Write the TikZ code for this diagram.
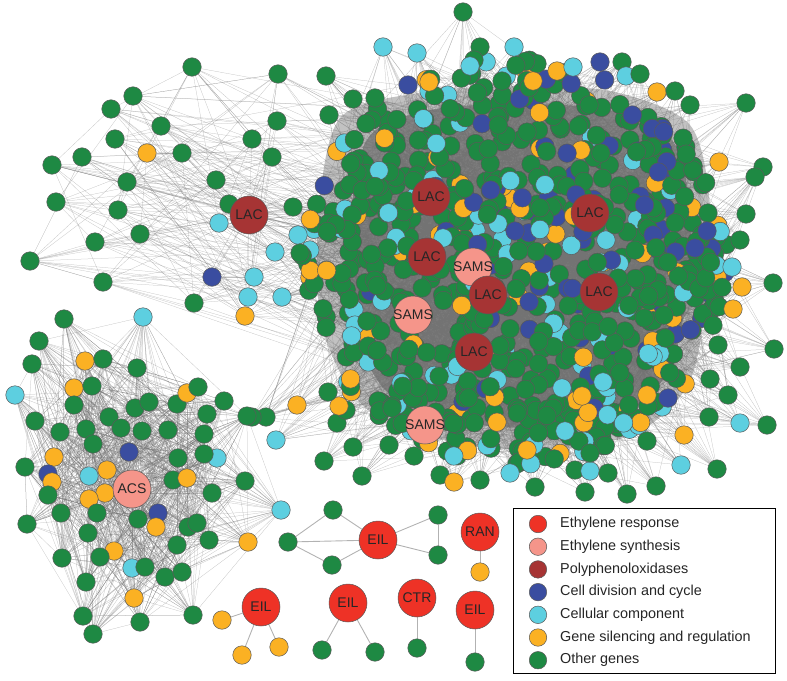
\documentclass[tikz,border=0pt]{standalone}
\usepackage{fontspec}
\setmainfont{Liberation Sans}
\usepackage{xcolor}
\usepackage{tikz}
\usetikzlibrary{positioning}

\definecolor{er}{RGB}{238,50,38}
\definecolor{es}{RGB}{245,149,138}
\definecolor{po}{RGB}{166,52,52}
\definecolor{cd}{RGB}{58,77,160}
\definecolor{cc}{RGB}{93,207,224}
\definecolor{gs}{RGB}{251,177,35}
\definecolor{og}{RGB}{30,137,67}

\pgfdeclarelayer{bg}
\pgfsetlayers{bg,main}

\tikzset{
  gene/.style={circle,draw=black!65,line width=0.5pt,minimum size=18.5pt,inner sep=0pt},
  hub/.style={circle,draw=black!65,line width=0.5pt,minimum size=38pt,inner sep=0pt},
  hubtext/.style={inner sep=0pt,text=black!85,font=\fontsize{14}{16}\selectfont},
  edge/.style={draw=black!55,line width=0.25pt,opacity=0.45},
  link/.style={draw=black!30,line width=0.9pt},
  legtext/.style={inner sep=0pt,anchor=west,text=black!85,font=\fontsize{14.4}{17}\selectfont}
}

\begin{document}
\begin{tikzpicture}[x=1pt,y=-1pt]
\useasboundingbox (0,0) rectangle (787,680);

% core genes of the big module
\pgfmathsetseed{4242}
\foreach \i in {1,...,820}{
  \pgfmathsetmacro\ra{1.04*sqrt(rnd)}
  \pgfmathsetmacro\an{360*rnd}
  \pgfmathsetmacro\px{515+205*\ra*cos(\an)}
  \pgfmathsetmacro\py{262+195*\ra*sin(\an)}
  \pgfmathsetmacro\u{rnd}
  \pgfmathtruncatemacro\k{(\px>470 && \py<360) ? (\u<0.17 ? 1 : (\u<0.27 ? 2 : (\u<0.35 ? 3 : 0))) : (\u<0.03 ? 1 : (\u<0.15 ? 2 : (\u<0.24 ? 3 : 0)))}
  \ifcase\k\relax \def\col{og}\or \def\col{cd}\or \def\col{cc}\or \def\col{gs}\fi
  \node[gene,fill=\col] (c\i) at (\px,\py) {};
}

% fringe of the big module
\foreach \x/\y/\c [count=\i] in {463/12/og,383/47/cc,417/53/cc,480/47/og,514/47/cc,326/76/og,353/99/og,375/98/og,
  408/85/cd,429/82/gs,329/115/og,474/60/og,470/66/cc,502/81/og,533/81/gs,557/71/gs,573/67/cc,600/62/cd,622/62/og,
  626/76/cc,640/74/og,657/92/gs,675/91/og,690/105/og,
  746/103/og,719/162/gs,763/167/og,755/177/og,746/214/og,740/240/og,708/213/og,707/231/cd,695/248/cd,732/267/cc,
  742/287/gs,773/283/og,733/309/gs,774/349/og,718/345/og,740/367/og,710/379/og,728/395/og,740/423/cc,767/425/og,
  709/417/og,684/435/gs,681/465/cc,717/469/og,668/398/cd,647/395/gs,647/441/og,656/486/og,627/494/og,
  297/405/gs,266/417/og,252/417/og,276/440/cc,324/461/og,353/447/og,362/476/og,389/445/og,414/456/og,337/423/og,
  346/410/og,339/406/gs,328/392/og,392/408/og,440/475/og,454/482/gs,480/480/og,510/473/cc,535/487/og,585/492/og,
  575/470/og,590/471/cc,608/473/og,527/450/gs,590/453/og,582/396/gs,565/431/cc,562/388/cc,603/382/cc,
  293/207/og,298/235/cc,300/253/og,282/297/cc}{
  \node[gene,fill=\c] (p\i) at (\x,\y) {};
  \xdef\np{\i}
}

% left arm of the big module
\foreach \x/\y/\c [count=\i] in {192/67/og,278/74/og,133/96/og,111/109/og,161/126/og,115/139/og,147/153/gs,
  182/153/og,52/165/og,82/157/og,127/182/og,216/180/og,277/121/og,252/139/og,272/157/og,56/202/og,118/210/og,
  140/234/og,95/242/og,30/261/og,103/282/og,229/204/og,219/223/cc,212/277/cd,254/277/cc,248/297/cc,275/252/cc,
  194/303/og,245/316/gs}{
  \node[gene,fill=\c] (l\i) at (\x,\y) {};
  \xdef\nl{\i}
}

% hubs of the big module
\node[hub,fill=po,label={[hubtext]center:LAC}] (lac0) at (249,215) {};
\node[hub,fill=po,label={[hubtext]center:LAC}] (lac1) at (431,197) {};
\node[hub,fill=po,label={[hubtext]center:LAC}] (lac2) at (590,213) {};
\node[hub,fill=po,label={[hubtext]center:LAC}] (lac3) at (427,257) {};
\node[hub,fill=es,label={[hubtext]center:SAMS}] (sams1) at (473,267) {};
\node[hub,fill=po,label={[hubtext]center:LAC}] (lac4) at (488,295) {};
\node[hub,fill=po,label={[hubtext]center:LAC}] (lac5) at (599,292) {};
\node[hub,fill=es,label={[hubtext]center:SAMS}] (sams2) at (413,315) {};
\node[hub,fill=po,label={[hubtext]center:LAC}] (lac6) at (474,352) {};
\node[hub,fill=es,label={[hubtext]center:SAMS}] (sams3) at (425,425) {};

\begin{pgfonlayer}{bg}
% dense edge mass of the big module
\fill[black!24] plot[smooth cycle] coordinates {(340,118) (425,92) (520,86) (615,92) (690,125) (710,205) (706,300) (688,385) (632,435) (535,450) (443,440) (362,405) (322,325) (318,220)};
\fill[black!48] plot[smooth cycle] coordinates {(368,138) (430,110) (520,104) (608,110) (672,140) (690,210) (686,300) (668,372) (620,416) (535,428) (450,420) (385,390) (352,320) (350,225)};
\foreach \i in {2,...,820}{
  \foreach \n in {1,...,3}{
    \pgfmathtruncatemacro\j{random(1,\i-1)}
    \draw[edge] (c\i) -- (c\j);
  }
}
\foreach \i in {1,...,\np}{
  \foreach \n in {1,...,14}{
    \pgfmathtruncatemacro\j{random(1,820)}
    \draw[edge] (p\i) -- (c\j);
  }
}
\foreach \i in {1,...,\nl}{
  \draw[edge] (lac0) -- (l\i);
  \foreach \n in {1,...,6}{
    \pgfmathtruncatemacro\j{random(1,820)}
    \draw[edge] (l\i) -- (c\j);
  }
  \foreach \n in {1,...,3}{
    \pgfmathtruncatemacro\j{random(1,\nl)}
    \draw[edge] (l\i) -- (l\j);
  }
}
\foreach \h in {lac0,lac1,lac2,lac3,lac4,lac5,lac6,sams1,sams2,sams3}{
  \foreach \n in {1,...,25}{
    \pgfmathtruncatemacro\j{random(1,820)}
    \draw[edge] (\h) -- (c\j);
  }
}
\end{pgfonlayer}

% ACS module
\foreach \x/\y/\c [count=\i] in {64/319/og,143/317/cc,39/341/og,32/364/og,85/361/gs,103/359/og,137/368/og,
  15/395/cc,74/388/gs,92/386/og,74/405/og,35/421/og,60/432/og,109/417/og,135/408/og,149/402/og,121/428/og,
  86/429/og,93/444/og,142/431/og,168/430/og,177/404/og,187/393/gs,198/387/og,224/401/og,207/414/og,247/416/og,
  204/434/og,129/452/cd,178/458/og,217/458/cc,204/454/og,54/457/gs,25/467/og,48/474/cd,52/482/gs,89/476/cc,
  107/470/gs,173/480/og,187/478/gs,245/481/og,105/493/gs,89/499/gs,212/493/og,48/495/og,97/513/og,61/513/og,
  158/513/cd,156/527/gs,138/519/og,27/524/og,188/527/og,197/523/og,209/540/og,88/533/og,177/545/og,248/542/gs,
  114/551/gs,100/557/og,62/558/og,132/568/cc,145/567/og,165/577/og,182/572/og,86/582/og,134/598/gs,83/616/og,
  140/622/og,193/615/og,93/634/og,281/510/cc}{
  \node[gene,fill=\c] (a\i) at (\x,\y) {};
  \xdef\na{\i}
}
\node[hub,fill=es,label={[hubtext]center:ACS}] (acs) at (132,489) {};
\begin{pgfonlayer}{bg}
\foreach \i in {1,...,\na}{
  \draw[edge] (acs) -- (a\i);
  \foreach \n in {1,...,15}{
    \pgfmathtruncatemacro\j{random(1,\na)}
    \draw[edge] (a\i) -- (a\j);
  }
}
\end{pgfonlayer}

% small ethylene modules
\node[hub,fill=er,label={[hubtext]center:EIL}] (eil1) at (378,540) {};
\node[gene,fill=og] (e1a) at (333,510) {};
\node[gene,fill=og] (e1b) at (288,542) {};
\node[gene,fill=og] (e1c) at (332,565) {};
\node[gene,fill=og] (e1d) at (438,515) {};
\node[gene,fill=og] (e1e) at (438,555) {};

\node[hub,fill=er,label={[hubtext]center:RAN}] (ran) at (480,532) {};
\node[gene,fill=gs] (r1) at (480,572) {};

\node[hub,fill=er,label={[hubtext]center:EIL}] (eil2) at (261,607) {};
\node[gene,fill=gs] (e2a) at (222,620) {};
\node[gene,fill=gs] (e2b) at (242,655) {};
\node[gene,fill=gs] (e2c) at (279,647) {};

\node[hub,fill=er,label={[hubtext]center:EIL}] (eil3) at (348,603) {};
\node[gene,fill=og] (e3a) at (322,650) {};
\node[gene,fill=og] (e3b) at (375,652) {};

\node[hub,fill=er,label={[hubtext]center:CTR}] (ctr) at (417,598) {};
\node[gene,fill=og] (t1) at (417,648) {};

\node[hub,fill=er,label={[hubtext]center:EIL}] (eil4) at (475,610) {};
\node[gene,fill=og] (e4a) at (475,662) {};

\begin{pgfonlayer}{bg}
\draw[link] (e1b) -- (e1a);
\draw[link] (e1b) -- (e1c);
\draw[link] (e1b) -- (eil1);
\draw[link] (e1a) -- (eil1);
\draw[link] (e1c) -- (eil1);
\draw[link] (eil1) -- (e1d);
\draw[link] (eil1) -- (e1e);
\draw[link] (e1d) -- (e1e);
\draw[link] (ran) -- (r1);
\draw[link] (eil2) -- (e2a);
\draw[link] (eil2) -- (e2b);
\draw[link] (eil2) -- (e2c);
\draw[link] (eil3) -- (e3a);
\draw[link] (eil3) -- (e3b);
\draw[link] (ctr) -- (t1);
\draw[link] (eil4) -- (e4a);
\end{pgfonlayer}

% legend
\node[draw,line width=1.1pt,fill=white,minimum width=262pt,minimum height=165pt,anchor=north west,inner sep=0pt] (legend) at (513,508) {};
\foreach \c/\t [count=\i] in {er/Ethylene response,es/Ethylene synthesis,po/Polyphenoloxidases,cd/Cell division and cycle,
  cc/Cellular component,gs/Gene silencing and regulation,og/Other genes}{
  \node[gene,fill=\c,minimum size=17.5pt] (k\i) at (538,{524+22.7*(\i-1)}) {};
  \node[legtext,right=13pt of k\i] (t\i) {\t};
}
\end{tikzpicture}
\end{document}
